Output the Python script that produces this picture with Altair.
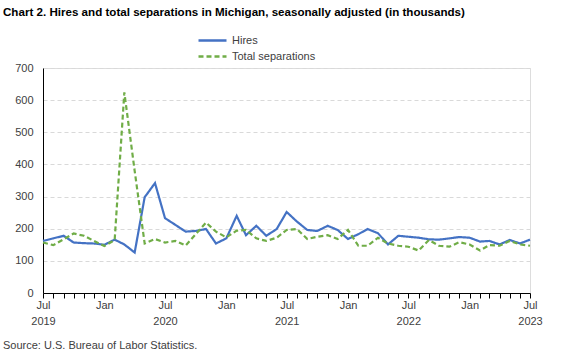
import altair as alt
import pandas as pd

title_text = "Chart 2. Hires and total separations in Michigan, seasonally adjusted (in thousands)"
source_text = "Source: U.S. Bureau of Labor Statistics."

start_month = "2019-07-01"
n_months = 49

hires = [162, 170, 178, 157, 155, 154,
         150, 166, 151, 126, 298, 342, 233, 212, 191, 193, 199, 154,
         170, 240, 180, 209, 178, 199, 252, 222, 196, 193, 209, 196,
         168, 183, 199, 186, 151, 178, 175, 172, 167, 166, 170, 174,
         172, 160, 162, 151, 165, 154, 166]

separations = [157, 149, 167, 185, 178, 162,
               146, 165, 624, 380, 154, 168, 157, 162, 148, 183, 219, 191,
               173, 194, 196, 170, 162, 172, 196, 199, 168, 175, 180, 168,
               196, 147, 147, 172, 154, 147, 144, 132, 165, 147, 144, 158,
               151, 132, 149, 147, 162, 151, 147]

series_names = ["Hires", "Total separations"]
series_colors = ["#4472C4", "#70AD47"]
y_ticks = [0, 100, 200, 300, 400, 500, 600, 700]

dates = pd.date_range(start_month, periods=n_months, freq="MS")
ms = [int(d.value // 10**6) for d in dates]

df = pd.DataFrame({
    "date": list(ms) * 2,
    "value": hires + separations,
    "series": [series_names[0]] * n_months + [series_names[1]] * n_months,
})

W, H = 487, 225

legend_kw = dict(title=None, orient="none", legendX=161, legendY=-36,
                 direction="vertical", symbolType="M-2,0L2,0",
                 symbolSize=196, symbolStrokeWidth=2.5,
                 labelFont="Liberation Sans", labelFontSize=11,
                 labelColor="#404040", rowPadding=2, padding=0, labelOffset=11)

lines = alt.Chart(df).mark_line(strokeWidth=2.2).encode(
    x=alt.X("date:T", scale=alt.Scale(type="utc", domain=[ms[0], ms[-1]], nice=False),
            axis=alt.Axis(values=ms, title=None, grid=False,
                          labelExpr="utcmonth(datum.value)==6 ? ['Jul', ''+utcyear(datum.value)] : (utcmonth(datum.value)==0 ? 'Jan' : '')",
                          labelOverlap=False, labelAngle=0, labelAlign="center",
                          labelFont="Liberation Sans", labelFontSize=11, labelColor="#404040",
                          labelLineHeight=16, labelPadding=1,
                          domainColor="#000000", domainWidth=1, tickColor="#000000",
                          tickSize=5, tickWidth=1)),
    y=alt.Y("value:Q", scale=alt.Scale(domain=[0, 700], nice=False),
            axis=alt.Axis(values=y_ticks, title=None, grid=True, gridColor="#d9d9d9",
                          gridDash=[4, 3], gridWidth=1, ticks=False,
                          domainColor="#000000", domainWidth=1,
                          labelFont="Liberation Sans", labelFontSize=11, labelColor="#404040",
                          labelPadding=10)),
    color=alt.Color("series:N", scale=alt.Scale(domain=series_names, range=series_colors),
                    legend=alt.Legend(**legend_kw)),
    strokeDash=alt.StrokeDash("series:N", scale=alt.Scale(domain=series_names, range=[[1, 0], [5, 3]]),
                              legend=alt.Legend(**legend_kw)),
)

src = alt.Chart(pd.DataFrame({"t": [source_text]})).mark_text(
    align="left", baseline="alphabetic", font="Liberation Sans", fontSize=11, color="#404040"
).encode(text="t:N", x=alt.value(-40), y=alt.value(H + 56))

chart = alt.layer(lines, src).properties(
    width=W, height=H,
    title=alt.TitleParams(title_text, anchor="start", frame="group", dx=-40, dy=-9,
                          font="Liberation Sans", fontSize=11.6, fontWeight="bold", color="#000000"),
    autosize=alt.AutoSizeParams(type="none"),
    padding={"left": 43, "top": 68, "right": 33, "bottom": 64},
).configure_view(stroke="#d9d9d9", strokeWidth=1).configure(background="white")

chart.save("out.html", embed_options={"renderer": "svg", "actions": False})
